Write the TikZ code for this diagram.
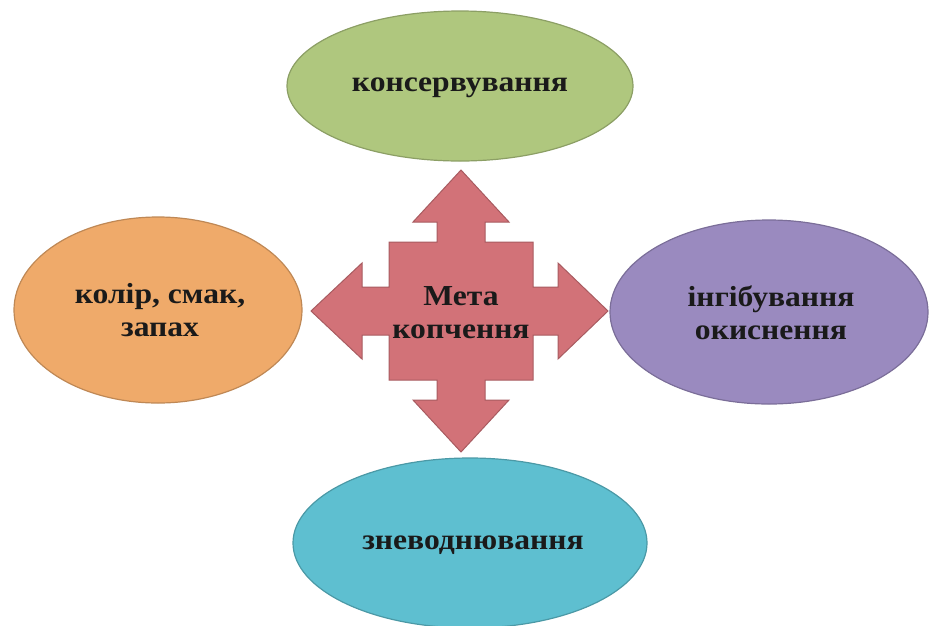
\documentclass[tikz,border=0pt]{standalone}
\usepackage{fontspec}
\setmainfont[FakeStretch=1.09]{Liberation Serif}
\usetikzlibrary{shapes.geometric}
\definecolor{cgreen}{HTML}{AFC77E}
\definecolor{corange}{HTML}{EFAA6A}
\definecolor{cpurple}{HTML}{9A8ABF}
\definecolor{ccyan}{HTML}{5EBFD0}
\definecolor{cred}{HTML}{D27278}
\definecolor{ctext}{HTML}{1A1A1A}
\tikzset{
  oval/.style={ellipse, inner sep=0pt, draw=#1!80!black, line width=1.2pt, fill=#1},
  lbl/.style={text=ctext, align=center, font=\fontsize{29}{33}\selectfont\bfseries},
}
\begin{document}
\begin{tikzpicture}[x=1pt,y=-1pt]
\useasboundingbox (0,0) rectangle (929,625);
% ellipses
\node[oval=cgreen, minimum width=346pt, minimum height=150pt] (top) at (460,86) {};
\node[oval=corange, minimum width=288pt, minimum height=186pt] (left) at (158,310) {};
\node[oval=cpurple, minimum width=318pt, minimum height=184pt] (right) at (769,312) {};
\node[oval=ccyan, minimum width=354pt, minimum height=170pt] (bottom) at (470,543) {};
% quad arrow
\fill[cred, draw=cred!80!black, line width=1pt]
 (461,170) -- (509,222) -- (485,222) -- (485,242) -- (533,242) -- (533,287) -- (558,287) -- (558,263) -- (608,311) -- (558,359) -- (558,335) -- (533,335) -- (533,380) -- (485,380) -- (485,400) -- (509,400) -- (461,452) -- (413,400) -- (437,400) -- (437,380) -- (389,380) -- (389,335) -- (362,335) -- (362,359) -- (311,311) -- (362,263) -- (362,287) -- (389,287) -- (389,242) -- (437,242) -- (437,222) -- (413,222) -- cycle;
% labels
\node[lbl] (ttop) at (460,88) {консервування};
\node[lbl] (tleft) at (160,310) {колір, смак,\\запах};
\node[lbl] (tright) at (771,313) {інгібування\\окиснення};
\node[lbl] (tbottom) at (473,545) {зневоднювання};
\node[lbl] (tcenter) at (461,313) {Мета\\копчення};
\end{tikzpicture}
\end{document}
